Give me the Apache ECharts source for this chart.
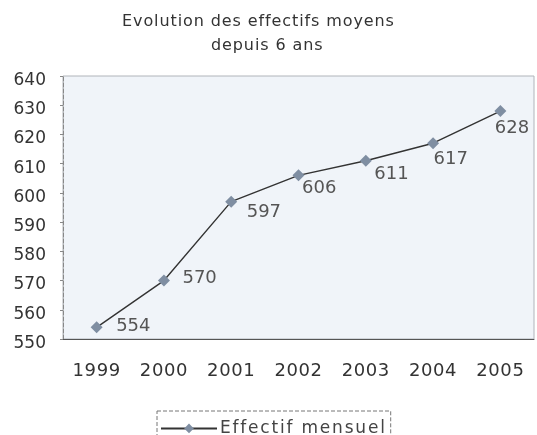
<!DOCTYPE html>
<html><head><meta charset="utf-8">
<script src="https://cdn.jsdelivr.net/npm/echarts@6/dist/echarts.min.js"></script>
<style>html,body{margin:0;padding:0;background:#fff}#c{width:537px;height:435px}</style>
</head><body><div id="c"></div>
<script>
const years = ['1999','2000','2001','2002','2003','2004','2005'];
const effectif = [554, 570, 597, 606, 611, 617, 628];
const seriesName = 'Effectif mensuel';
const titleLine1 = 'Evolution des effectifs moyens';
const titleLine2 = 'depuis 6 ans';

// letter spacing helper: a font family marker "SpNN" means NN/10 px spacing
(function(){
  const P = CanvasRenderingContext2D.prototype;
  const mt = P.measureText, ft = P.fillText;
  function apply(ctx){
    if (!('letterSpacing' in ctx)) return;
    const m = /Sp(\d+)/.exec(ctx.font || '');
    ctx.letterSpacing = m ? (m[1] / 10) + 'px' : '0px';
  }
  P.measureText = function(t){ apply(this); return mt.call(this, t); };
  P.fillText = function(){ apply(this); return ft.apply(this, arguments); };
})();

const labelOffsets = [[13.5,-1],[12.5,-2],[9.5,11],[-2.5,13],[2.5,14],[-5.5,16],[-11.5,17]];
const F = 'DejaVu Sans';
const chart = echarts.init(document.getElementById('c'));
chart.setOption({
  backgroundColor: '#fff',
  animation: false,
  title: [
    {text: titleLine1, left: 117, top: 8,
     textStyle: {fontFamily: F + ', Sp9', fontSize: 16, fontWeight: 'normal', color: '#333'}},
    {text: titleLine2, left: 206, top: 32,
     textStyle: {fontFamily: F + ', Sp9', fontSize: 16, fontWeight: 'normal', color: '#333'}}
  ],
  legend: {
    left: 157, top: 411,
    data: [seriesName],
    itemWidth: 56, itemHeight: 12, itemGap: 4,
    borderColor: '#777', borderWidth: 1, borderType: 'dashed',
    padding: [8, 4, 20, 3],
    textStyle: {fontFamily: F + ', Sp18', fontSize: 17, color: '#444', padding: [0,0,0,-2]}
  },
  grid: {left: 63, right: 3, top: 76, bottom: 96, show: true, backgroundColor: '#f0f4f9', borderColor: '#b0b4ba', borderWidth: 1},
  xAxis: {
    type: 'category', data: years, boundaryGap: true,
    axisLine: {show: true, lineStyle: {color: '#555', width: 1}},
    axisTick: {show: false},
    axisLabel: {margin: 23, fontFamily: F + ', Sp6', fontSize: 18, color: '#333'}
  },
  yAxis: {
    type: 'value', min: 550, max: 640, interval: 10,
    axisLine: {show: true, lineStyle: {color: '#888', type: 'dashed'}},
    axisTick: {show: true, length: 3, lineStyle: {color: '#888'}},
    splitLine: {show: false},
    axisLabel: {margin: 17, fontFamily: F, fontSize: 17, color: '#333', verticalAlign: 'top', lineHeight: 9}
  },
  series: [{
    name: seriesName, type: 'line',
    data: effectif.map((v, i) => ({value: v, label: {offset: labelOffsets[i]}})),
    symbol: 'diamond', symbolSize: 12,
    itemStyle: {color: '#7f8ea2'},
    lineStyle: {color: '#333', width: 1.4},
    label: {show: true, position: 'right', distance: 0, fontFamily: F, fontSize: 18, color: '#555'}
  }]
});
</script></body></html>
